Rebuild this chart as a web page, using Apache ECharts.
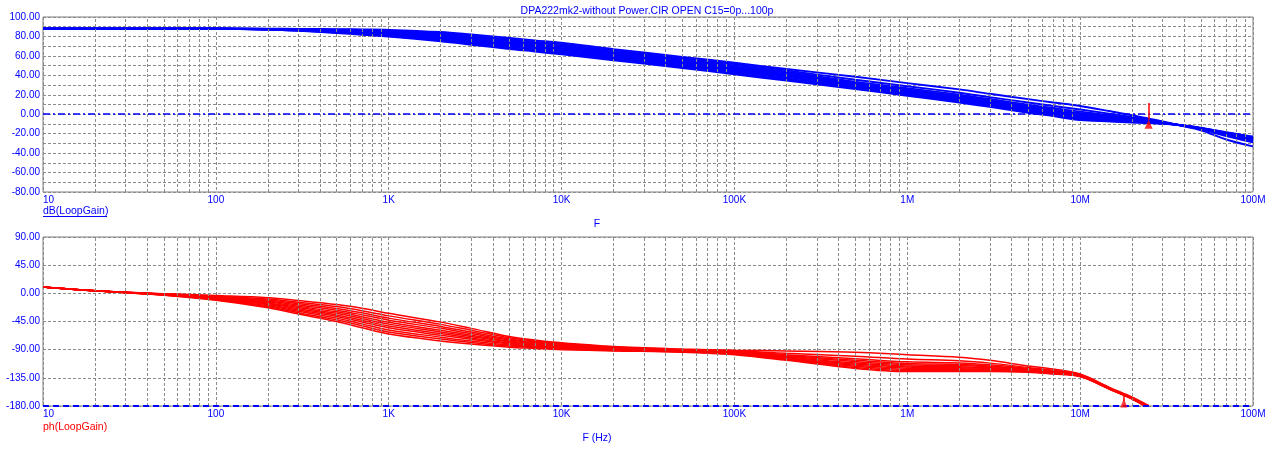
<!DOCTYPE html>
<html><head><meta charset="utf-8">
<script src="https://cdn.jsdelivr.net/npm/echarts@6/dist/echarts.min.js"></script>
<style>html,body{margin:0;padding:0;background:#fff}#c{width:1280px;height:456px}</style>
</head><body><div id="c"></div>
<script>
// ---------- data ----------
const capLabels = ['0p','10p','20p','30p','40p','50p','60p','70p','80p','90p','100p'];

const gainFreq = [10,20,50,100,200,300,500,700,1e3,2e3,3e3,5e3,7e3,1e4,2e4,5e4,1e5,2e5,5e5,1e6,2e6,3e6,5e6,7e6,1e7,1.5e7,2e7,2.5e7,3e7,3.7e7,5e7,7e7,1e8];
const gainC0   = [88,88,88,88,87.9,87.8,87.5,87.2,86.8,84.5,82.0,78.5,76.0,73.5,67.0,59.0,53.0,46.5,38.5,32.0,25.5,21.0,15.5,12.0,8.5,3.0,-1.0,-4.5,-7.5,-11.2,-16.5,-26.0,-33.0];
const gainC10  = [88,88,88,88,87.8,87.6,87.0,86.6,86.0,83.4,80.7,77.1,74.6,72.1,65.6,57.6,51.6,45.1,35.4,28.8,22.1,17.6,12.0,8.5,4.9,0.4,-2.9,-5.6,-8.1,-11.1,-15.4,-22.5,-29.0];
const gainC20  = [88,88,88,88,87.7,87.3,86.6,86.0,85.2,82.3,79.6,75.9,73.4,70.7,64.4,56.4,50.2,43.7,33.5,26.8,20.1,15.6,9.9,6.4,2.7,-1.2,-4.0,-6.3,-8.4,-11.1,-15.1,-21.5,-27.8];
const gainC30  = [88,88,88,88,87.6,87.1,86.2,85.4,84.5,81.4,78.5,74.7,72.2,69.5,63.2,55.2,49.0,42.5,32.3,25.5,18.8,14.3,8.5,5.0,1.3,-2.3,-4.8,-6.8,-8.7,-11.0,-14.9,-21.0,-27.0];
const gainC40  = [88,88,88,88,87.5,86.9,85.8,84.9,83.8,80.4,77.5,73.6,71.1,68.3,62.1,54.1,47.8,41.3,31.3,24.5,17.7,13.2,7.4,3.9,0.1,-3.1,-5.4,-7.1,-8.8,-11.0,-14.8,-20.5,-26.3];
const gainC50  = [88,88,88,88,87.4,86.8,85.4,84.4,83.2,79.6,76.5,72.5,70.0,67.3,61.0,53.0,46.8,40.3,30.3,23.4,16.6,12.1,6.3,2.8,-1.1,-3.9,-6.0,-7.5,-9.0,-11.0,-14.6,-20.1,-25.6];
const gainC60  = [88,88,88,88,87.4,86.6,85.1,83.9,82.5,78.7,75.6,71.5,69.0,66.2,60.0,52.0,45.7,39.2,29.4,22.5,15.7,11.1,5.3,1.8,-2.1,-4.7,-6.5,-7.8,-9.2,-11.0,-14.5,-19.8,-25.0];
const gainC70  = [88,88,88,88,87.3,86.4,84.7,83.4,81.9,77.9,74.7,70.5,68.0,65.1,59.0,51.0,44.6,38.1,28.5,21.6,14.7,10.2,4.3,0.8,-3.1,-5.4,-7.0,-8.1,-9.3,-10.9,-14.4,-19.4,-24.4];
const gainC80  = [88,88,88,87.9,87.2,86.2,84.3,82.9,81.2,76.9,73.6,69.3,66.8,63.9,57.8,49.8,43.4,36.9,27.6,20.7,13.8,9.3,3.3,-0.2,-4.1,-6.1,-7.5,-8.4,-9.5,-10.9,-14.3,-19.1,-23.9];
const gainC90  = [88,88,88,87.9,87.1,86.0,83.9,82.3,80.5,76.0,72.6,68.2,65.7,62.7,56.7,48.7,42.2,35.7,26.8,19.8,12.8,8.3,2.3,-1.2,-5.1,-6.9,-8.1,-8.7,-9.7,-10.9,-14.1,-18.8,-23.4];
const gainC100 = [88,88,88,87.9,87.0,85.8,83.5,81.8,79.8,75.0,71.5,67.0,64.5,61.5,55.5,47.5,41.0,34.5,26.0,19.0,12.0,7.5,1.5,-2.0,-6.0,-7.5,-8.5,-9.0,-9.8,-10.8,-14.0,-18.5,-23.0];
const gainCurves = [gainC0,gainC10,gainC20,gainC30,gainC40,gainC50,gainC60,gainC70,gainC80,gainC90,gainC100];

const phaseFreq = [10,20,50,100,200,300,500,700,1e3,2e3,3e3,5e3,7e3,1e4,2e4,5e4,1e5,2e5,5e5,1e6,2e6,3e6,5e6,7e6,1e7,1.5e7,2e7,2.5e7];
const phaseC0   = [10,4,-0.5,-3.5,-7,-11.5,-18,-24,-32,-46,-56,-69,-74.5,-79,-85,-89,-91,-92,-94,-98,-102,-107,-116,-121,-129,-151,-166,-179.5];
const phaseC10  = [10,4,-0.8,-4.4,-8.9,-14.1,-21.2,-27.7,-36.0,-49.6,-59.0,-71.0,-76.1,-80.3,-85.8,-89.6,-91.8,-95.8,-100.5,-105,-107.8,-111.5,-118.5,-123,-130,-151.8,-166.8,-180.5];
const phaseC20  = [10,4,-1.1,-5.2,-10.7,-16.4,-24.2,-31.1,-39.6,-52.9,-61.8,-72.9,-77.6,-81.5,-86.6,-90.2,-92.6,-98,-104.4,-109.5,-111.2,-114.2,-120,-124.2,-130.6,-152.2,-167.2,-181];
const phaseC30  = [10,4,-1.3,-6.0,-12.3,-18.6,-26.9,-34.2,-42.9,-55.9,-64.3,-74.6,-79.0,-82.6,-87.3,-90.7,-93.3,-99.5,-107,-112,-113.5,-116.0,-121,-125,-131,-152.5,-167.5,-181.5];
const phaseC40  = [10,4,-1.6,-6.7,-13.9,-20.7,-29.6,-37.3,-46.2,-58.9,-66.8,-76.3,-80.3,-83.7,-88.0,-91.2,-94.0,-100.7,-109.1,-114,-115.3,-117.4,-121.8,-125.6,-131.3,-152.7,-167.7,-182];
const phaseC50  = [10,4,-1.8,-7.4,-15.3,-22.7,-32.0,-40.1,-49.2,-61.6,-69.0,-77.8,-81.5,-84.7,-88.6,-91.6,-94.6,-101.9,-111.2,-116,-117.2,-118.9,-122.6,-126.3,-131.6,-153,-168,-182.3];
const phaseC60  = [10,4,-2.0,-8.1,-16.8,-24.6,-34.5,-42.9,-52.1,-64.3,-71.3,-79.4,-82.7,-85.7,-89.3,-92.1,-95.3,-103,-113,-117.8,-118.8,-120.1,-123.3,-126.8,-131.9,-153.2,-168.2,-182.6];
const phaseC70  = [10,4,-2.3,-8.8,-18.2,-26.6,-36.9,-45.7,-55.1,-67.0,-73.5,-80.9,-84.0,-86.7,-89.9,-92.5,-95.9,-104,-114.8,-119.5,-120.4,-121.4,-124,-127.4,-132.2,-153.4,-168.4,-183];
const phaseC80  = [10,4,-2.5,-9.5,-19.8,-28.7,-39.6,-48.8,-58.4,-70.0,-76.0,-82.6,-85.3,-87.8,-90.6,-93.0,-96.6,-105,-116.6,-121.5,-122.0,-122.7,-124.7,-127.9,-132.5,-153.6,-168.6,-183.3];
const phaseC90  = [10,4,-2.8,-10.3,-21.4,-30.9,-42.3,-51.9,-61.7,-73.0,-78.5,-84.3,-86.7,-88.9,-91.3,-93.5,-97.3,-106,-118.4,-123.3,-123.6,-123.9,-125.4,-128.5,-132.8,-153.8,-168.8,-183.6];
const phaseC100 = [10,4,-3.0,-11.0,-23,-33,-45,-55,-65,-76,-81,-86,-88,-90,-92,-94,-98,-107,-120,-125,-125,-125,-126,-129,-133,-154,-169,-184];
const phaseCurves = [phaseC0,phaseC10,phaseC20,phaseC30,phaseC40,phaseC50,phaseC60,phaseC70,phaseC80,phaseC90,phaseC100];

const xTickText = {1:'10',2:'100',3:'1K',4:'10K',5:'100K',6:'1M',7:'10M',8:'100M'};
const gainRefLevel = 0;
const phaseRefLevel = -180;
// cursor markers: frequency, line [from,to], triangle centre value
const gainMarkerFreq = 2.49e7, gainMarkerLine = [-5.6, 11.5], gainMarkerTri = -10.4;
const phaseMarkerFreq = 1.79e7, phaseMarkerLine = [-172, -161], phaseMarkerTri = -175.2;

// ---------- chart ----------
const BLUE = '#0000ff', RED = '#ff0000', GRID = '#8c8c8c', FONT = 'Liberation Sans, Arial, sans-serif';
const minorFreqs = [];
for (let d = 1; d < 8; d++) for (let m = 2; m <= 9; m++) minorFreqs.push(m * Math.pow(10, d));

function xAxis(gi) {
  return {
    type: 'log', logBase: 10, gridIndex: gi, min: 10, max: 1e8, splitNumber: 7,
    axisLine: {show: false}, axisTick: {show: false},
    axisLabel: {color: BLUE, fontFamily: FONT, fontSize: 10, margin: 3, alignMinLabel: 'left',
      formatter: v => xTickText[Math.round(Math.log10(v))] || ''},
    splitLine: {show: true, lineStyle: {color: GRID, type: [3, 2], width: 1}}
  };
}
function yAxis(gi, min, max, step, labelStep) {
  return {
    type: 'value', gridIndex: gi, min, max, interval: step,
    axisLine: {show: false}, axisTick: {show: false},
    axisLabel: {color: BLUE, fontFamily: FONT, fontSize: 10, margin: 3,
      formatter: v => (Math.abs(v % labelStep) < 1e-9 ? v.toFixed(2) : '')},
    splitLine: {show: true, lineStyle: {color: GRID, type: [3, 2], width: 1}}
  };
}
function gridSeries(gi) {
  return {type: 'line', xAxisIndex: gi, yAxisIndex: gi, data: [], z: 1, silent: true,
    markLine: {silent: true, symbol: 'none', label: {show: false}, animation: false,
      lineStyle: {color: GRID, type: [3, 2], width: 1},
      data: minorFreqs.map(f => ({xAxis: f}))}};
}
function refSeries(gi, level, style) {
  return {type: 'line', xAxisIndex: gi, yAxisIndex: gi, data: [], z: 2, silent: true,
    markLine: {silent: true, symbol: 'none', label: {show: false}, animation: false,
      lineStyle: style, data: [{yAxis: level}]}};
}
function curveSeries(gi, freqs, curves, color, prefix, width) {
  return curves.map((vals, i) => ({
    type: 'line', name: prefix + capLabels[i], xAxisIndex: gi, yAxisIndex: gi,
    data: freqs.map((f, j) => [f, vals[j]]), showSymbol: false, smooth: 0.35,
    lineStyle: {color, width}, itemStyle: {color}, z: 3, silent: true, clip: true
  }));
}
function markerSeries(gi, freq, line, tri, size) {
  return {type: 'scatter', xAxisIndex: gi, yAxisIndex: gi, z: 5, silent: true,
    data: [[freq, tri]], symbol: 'triangle', symbolSize: size, itemStyle: {color: RED},
    markLine: {silent: true, symbol: 'none', label: {show: false}, animation: false,
      lineStyle: {color: RED, type: 'solid', width: 1.5},
      data: [[{coord: [freq, line[0]]}, {coord: [freq, line[1]]}]]}};
}

const chart = echarts.init(document.getElementById('c'), null, {renderer: 'canvas'});
chart.setOption({
  animation: false,
  backgroundColor: '#ffffff',
  grid: [
    {left: 43, right: 27, top: 17, height: 175, show: true, borderColor: '#7f7f7f', borderWidth: 1, backgroundColor: 'transparent'},
    {left: 43, right: 27, top: 237, height: 169, show: true, borderColor: '#7f7f7f', borderWidth: 1, backgroundColor: 'transparent'}
  ],
  xAxis: [xAxis(0), xAxis(1)],
  yAxis: [yAxis(0, -80, 100, 10, 20), yAxis(1, -180, 90, 45, 45)],
  series: [
    gridSeries(0), gridSeries(1),
    refSeries(0, gainRefLevel, {color: BLUE, type: [7, 3, 2, 3], width: 1.5}),
    refSeries(1, phaseRefLevel, {color: BLUE, type: [6, 4], width: 2}),
    ...curveSeries(0, gainFreq, gainCurves, BLUE, 'dB C15=', 1.9),
    ...curveSeries(1, phaseFreq, phaseCurves, RED, 'ph C15=', 1.5),
    markerSeries(0, gainMarkerFreq, gainMarkerLine, gainMarkerTri, [8, 9]),
    markerSeries(1, phaseMarkerFreq, phaseMarkerLine, phaseMarkerTri, [7, 9])
  ],
  graphic: [
    {type: 'text', x: 647, y: 11, style: {text: 'DPA222mk2-without Power.CIR OPEN C15=0p...100p', fill: BLUE, font: '10.5px ' + FONT, align: 'center', verticalAlign: 'middle'}},
    {type: 'text', x: 43, y: 211, style: {text: 'dB(LoopGain)', fill: BLUE, font: '10.5px ' + FONT, align: 'left', verticalAlign: 'middle'}},
    {type: 'line', shape: {x1: 43, y1: 216.5, x2: 107, y2: 216.5}, style: {stroke: BLUE, lineWidth: 1}},
    {type: 'text', x: 597, y: 224, style: {text: 'F', fill: BLUE, font: '10.5px ' + FONT, align: 'center', verticalAlign: 'middle'}},
    {type: 'text', x: 43, y: 427, style: {text: 'ph(LoopGain)', fill: RED, font: '10.5px ' + FONT, align: 'left', verticalAlign: 'middle'}},
    {type: 'text', x: 597, y: 438, style: {text: 'F (Hz)', fill: BLUE, font: '10.5px ' + FONT, align: 'center', verticalAlign: 'middle'}}
  ]
});
</script>
</body></html>
